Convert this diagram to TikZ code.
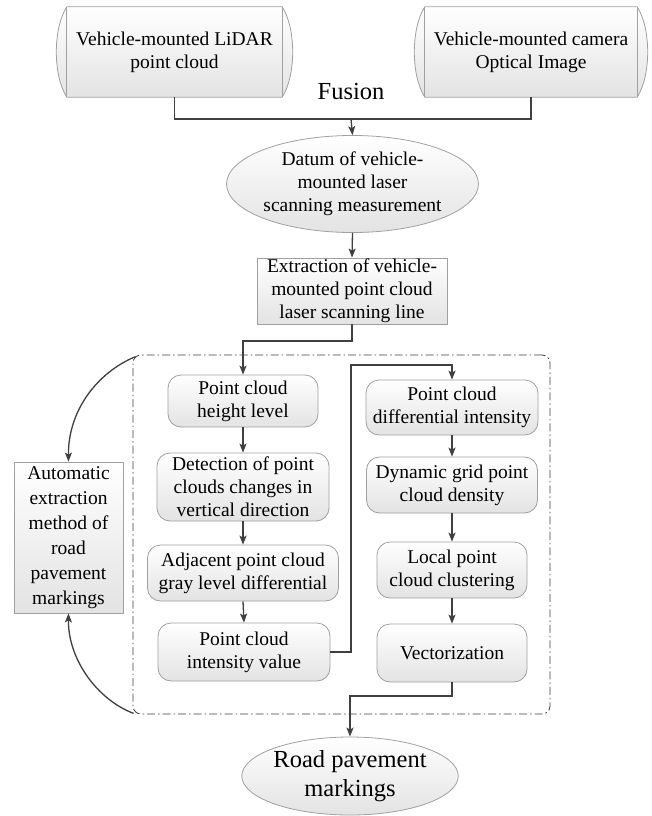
\documentclass[tikz,border=0pt]{standalone}
\usepackage{fontspec}
\setmainfont{Liberation Serif}
\usetikzlibrary{arrows.meta,shapes.geometric,calc,backgrounds}
\definecolor{edgecol}{HTML}{A0A0A0}
\definecolor{conncol}{HTML}{404040}
\begin{document}
\begin{tikzpicture}[x=1pt,y=-1pt,
  txt/.style={font=\fontsize{19.5}{23}\selectfont, align=center, inner sep=0pt},
  bigtxt/.style={font=\fontsize{24.5}{29}\selectfont, align=center, inner sep=0pt},
  fillshade/.style={top color=white, bottom color=gray!22},
  rbox/.style={txt, draw=edgecol, line width=0.8pt, rounded corners=13pt, fillshade},
  sbox/.style={txt, draw=edgecol, line width=0.8pt, fillshade},
  ell/.style={ellipse, draw=edgecol, line width=0.8pt, fillshade, align=center, inner sep=0pt},
  conn/.style={draw=conncol, line width=1.3pt, -{Stealth[length=9pt,width=7pt,inset=2pt]}},
  plain/.style={draw=conncol, line width=1.3pt},
  grpbox/.style={draw=conncol, line width=0.8pt, dash pattern=on 8pt off 3pt on 1.5pt off 3pt, rounded corners=8pt, inner sep=0pt}
]
\useasboundingbox (0,0) rectangle (652,816);

% top data boxes
\node[txt, minimum width=215pt, minimum height=90pt] (lidar) at (174.5,52) {Vehicle-mounted LiDAR\\point cloud};
\node[txt, minimum width=212pt, minimum height=90pt] (camera) at (531,52) {Vehicle-mounted camera\\Optical Image};
\begin{scope}[on background layer]
\fill[white] (0,0) rectangle (652,816);
\foreach \n in {lidar,camera}{
  \shadedraw[fillshade, draw=edgecol, line width=0.8pt] (\n.north west) -- (\n.north east)
    .. controls ($(\n.north east)+(14,22)$) and ($(\n.south east)+(14,-22)$) .. (\n.south east)
    -- (\n.south west)
    .. controls ($(\n.south west)+(-14,-22)$) and ($(\n.north west)+(-14,22)$) .. (\n.north west) -- cycle;
  \draw[edgecol, line width=0.8pt] (\n.north west) -- (\n.south west) (\n.north east) -- (\n.south east);
}
\end{scope}

\node[bigtxt, anchor=base] (fusion) at (351,99) {Fusion};
\coordinate (fj) at (351,119);
\draw[plain] (lidar.south) |- (fj) -| (camera.south);

\node[ell, minimum width=229pt, minimum height=97pt, txt] (datum) at (352.5,184) {Datum of vehicle-\\mounted laser\\scanning measurement};
\draw[conn] (fj) -- (datum.north);

\node[sbox, minimum width=190pt, minimum height=66pt] (extract) at (352,291) {Extraction of vehicle-\\mounted point cloud\\laser scanning line};
\draw[conn] (datum.south) -- (extract.north);

% group container
\node[grpbox, minimum width=417pt, minimum height=359pt] (grp) at (341.5,534.5) {};

% left column
\node[rbox, minimum width=150pt, minimum height=52pt] (hl) at (243,401) {Point cloud\\height level};
\node[rbox, minimum width=172pt, minimum height=68pt] (det) at (243,487) {Detection of point\\clouds changes in\\vertical direction};
\node[rbox, minimum width=191pt, minimum height=56pt] (adj) at (243,573) {Adjacent point cloud\\gray level differential};
\node[rbox, minimum width=172pt, minimum height=58pt] (int) at (244,652) {Point cloud\\intensity value};

% right column
\node[rbox, minimum width=172pt, minimum height=55pt] (diff) at (452,407.5) {Point cloud\\differential intensity};
\node[rbox, minimum width=171pt, minimum height=56pt] (dyn) at (452,485) {Dynamic grid point\\cloud density};
\node[rbox, minimum width=150pt, minimum height=56pt] (loc) at (452,570) {Local point\\cloud clustering};
\node[rbox, minimum width=150pt, minimum height=58pt] (vec) at (452,653) {Vectorization};

% left side box
\node[sbox, minimum width=109pt, minimum height=151pt, font=\fontsize{19.5}{25}\selectfont] (auto) at (68.5,537.5) {Automatic\\extraction\\method of\\road\\pavement\\markings};

% bottom ellipse
\node[ell, minimum width=195pt, minimum height=78pt, bigtxt] (road) at (350,776) {Road pavement\\markings};

% connectors
\coordinate (e1) at (352,341);
\coordinate (e2) at (243,341);
\draw[conn] (extract.south) -- (e1) -- (e2) -- (hl.north);
\draw[conn] (hl.south) -- (det.north);
\draw[conn] (det.south) -- (adj.north);
\draw[conn] (adj.south) -- (int.north);
\coordinate (i1) at (351,652);
\coordinate (i2) at (351,365);
\coordinate (i3) at (452,365);
\draw[conn] (int.east) -- (i1) -- (i2) -- (i3) -- (diff.north);
\draw[conn] (diff.south) -- (dyn.north);
\draw[conn] (dyn.south) -- (loc.north);
\draw[conn] (loc.south) -- (vec.north);
\coordinate (v1) at (452,696);
\coordinate (v2) at (350,696);
\draw[conn] (vec.south) -- (v1) -- (v2) -- (road.north);

% curved arrows to the side box
\draw[conn] ([shift={(3,2)}]grp.north west) .. controls (98,372) and (68,410) .. (auto.north);
\draw[conn] ([shift={(1,-1)}]grp.south west) .. controls (98,700) and (68,660) .. (auto.south);
\end{tikzpicture}
\end{document}
